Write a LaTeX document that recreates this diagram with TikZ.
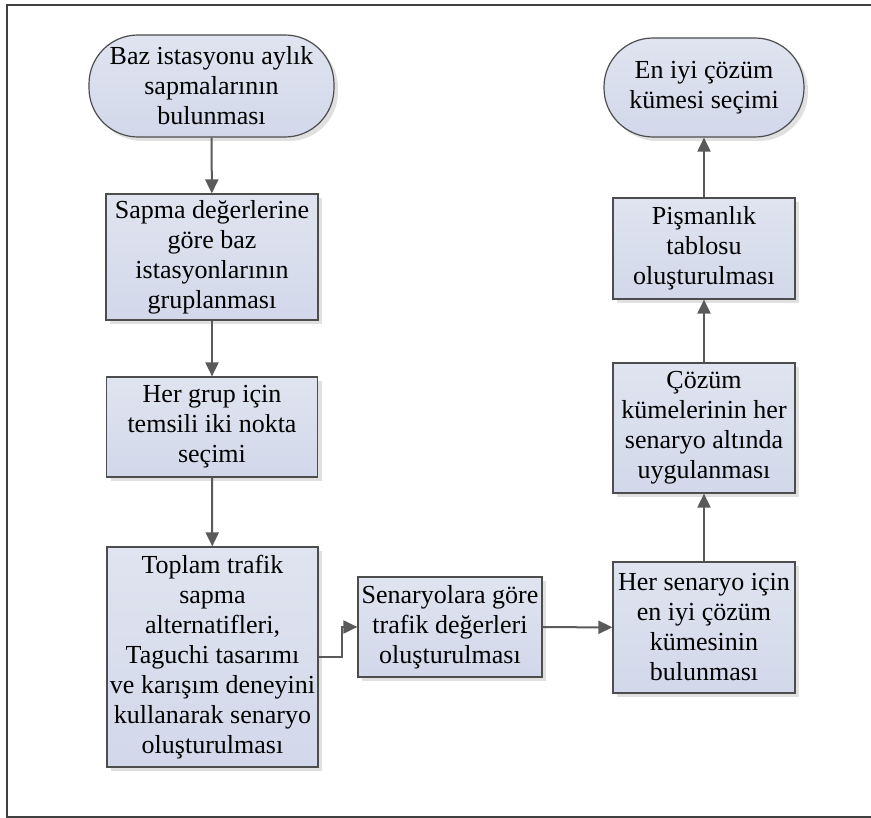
\documentclass[tikz,border=0pt]{standalone}
\usepackage{fontspec}
\setmainfont{Liberation Serif}
\usetikzlibrary{arrows.meta,shadows}
\definecolor{boxtop}{HTML}{E0E4F0}
\definecolor{boxbot}{HTML}{D2D8EA}
\definecolor{edge}{HTML}{4D4D4D}
\definecolor{wire}{HTML}{5A5A5A}
\definecolor{frame}{HTML}{404040}
\tikzset{
  base/.style={draw=edge, line width=1.2pt, top color=boxtop, bottom color=boxbot,
    align=center, inner sep=0pt, font=\fontsize{26}{30}\selectfont,
    drop shadow={shadow xshift=4pt, shadow yshift=-4pt, fill=black!12, opacity=1}},
  stepbox/.style={base, rectangle},
  term/.style={base, rectangle, rounded corners=49pt},
  flow/.style={draw=wire, line width=2pt, -{Triangle[length=14pt,width=13pt]}},
}
\begin{document}
\begin{tikzpicture}[x=1pt,y=-1pt]
\useasboundingbox (0,0) rectangle (871,818);
\clip (0,0) rectangle (871,818);
\fill[white] (0,0) rectangle (871,818);
% outer frame
\draw[frame, line width=2pt] (890,5) -- (7,5) -- (7,817) -- (890,817);

% left column
\node[term, minimum width=245pt, minimum height=102pt] (start) at (211.5,86)
  {Baz istasyonu aylık\\sapmalarının\\bulunması};
\node[stepbox, minimum width=212pt, minimum height=126pt] (group) at (212,257)
  {Sapma değerlerine\\göre baz\\istasyonlarının\\gruplanması};
\node[stepbox, minimum width=211pt, minimum height=100pt] (pick) at (212,427)
  {Her grup için\\temsili iki nokta\\seçimi};
\node[stepbox, minimum width=211pt, minimum height=220pt] (scen) at (212.5,657)
  {Toplam trafik\\sapma\\alternatifleri,\\Taguchi tasarımı\\ve karışım deneyini\\kullanarak senaryo\\oluşturulması};

% middle
\node[stepbox, minimum width=184pt, minimum height=100pt] (traffic) at (450,627)
  {Senaryolara göre\\trafik değerleri\\oluşturulması};

% right column
\node[stepbox, minimum width=182pt, minimum height=131pt] (best) at (704,627.5)
  {Her senaryo için\\en iyi çözüm\\kümesinin\\bulunması};
\node[stepbox, minimum width=182pt, minimum height=130pt] (apply) at (704,428)
  {Çözüm\\kümelerinin her\\senaryo altında\\uygulanması};
\node[stepbox, minimum width=182pt, minimum height=101pt] (regret) at (704,248.5)
  {Pişmanlık\\tablosu\\oluşturulması};
\node[term, minimum width=200pt, minimum height=99pt] (final) at (704,87.5)
  {En iyi çözüm\\kümesi seçimi};

% connectors
\draw[flow] (start) -- (group);
\draw[flow] (group) -- (pick);
\draw[flow] (pick) -- (scen);
\coordinate (bend) at ([xshift=23pt]scen.east);
\draw[flow] (scen.east) -- (bend) |- (traffic.west);
\draw[flow] (traffic) -- (best);
\draw[flow] (best) -- (apply);
\draw[flow] (apply) -- (regret);
\draw[flow] (regret) -- (final);
\end{tikzpicture}
\end{document}
